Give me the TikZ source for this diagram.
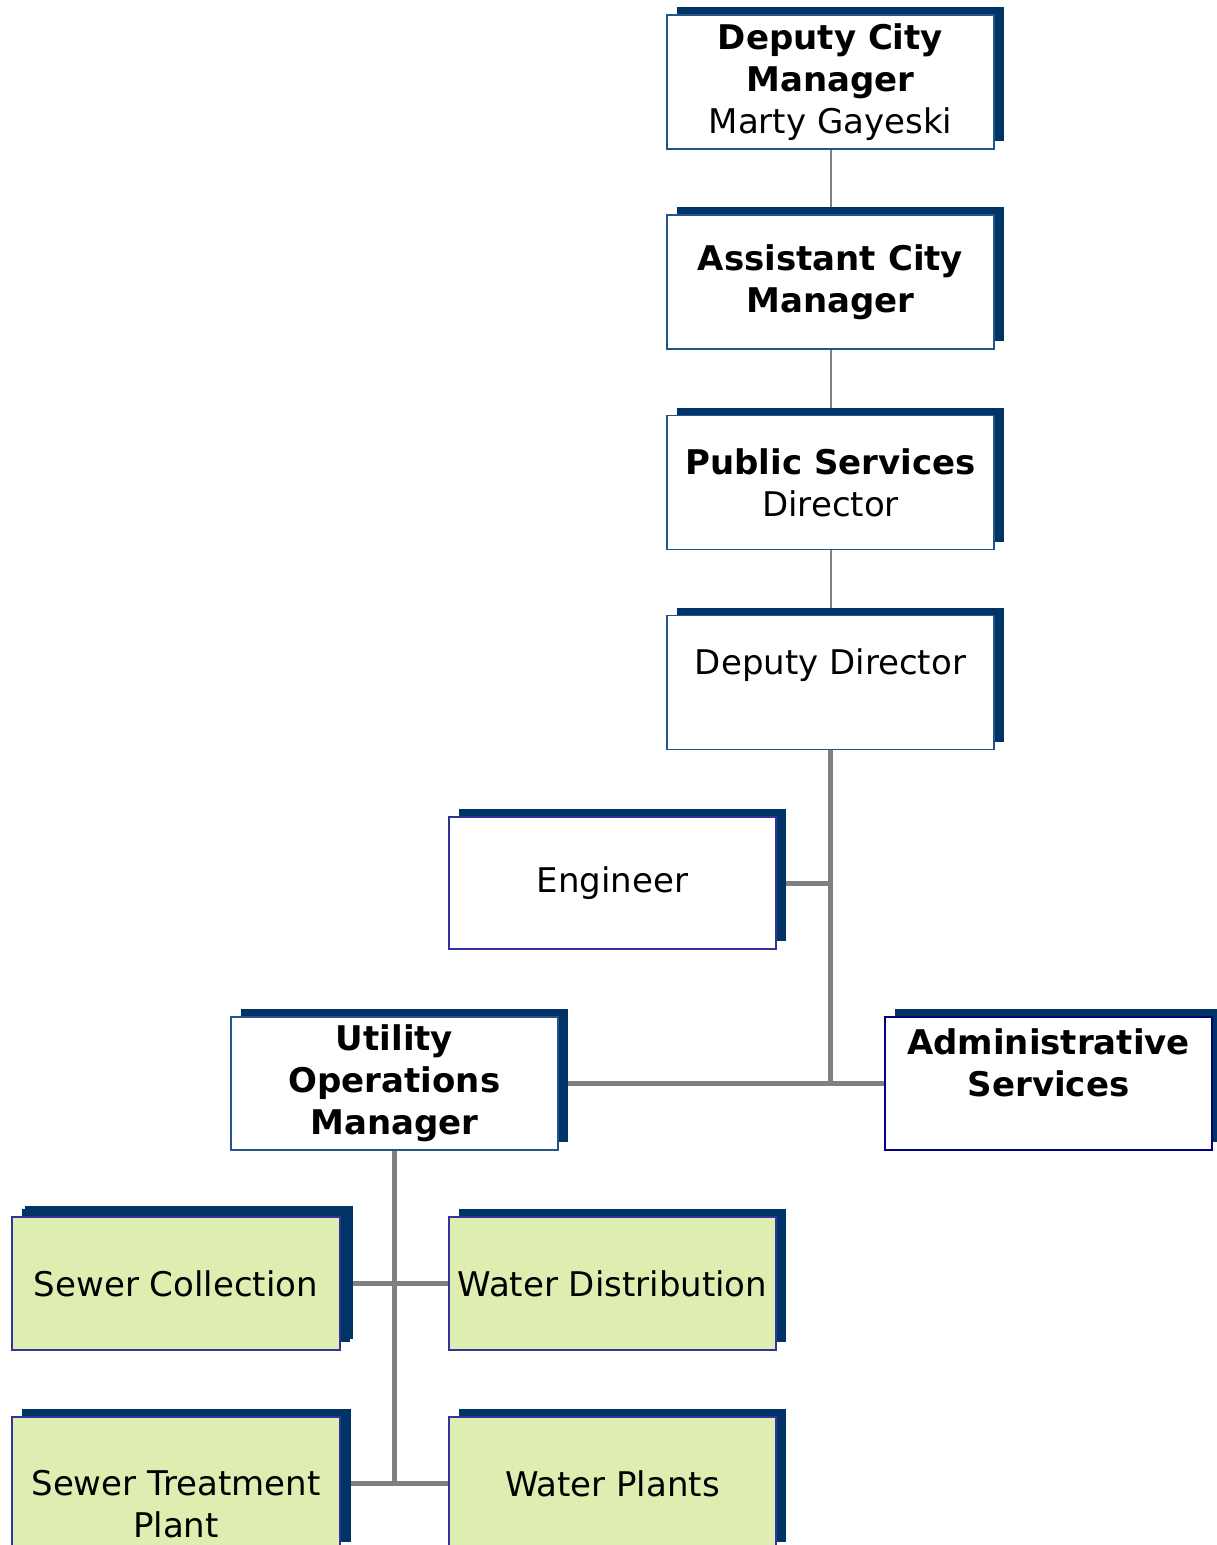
\documentclass[tikz,border=0pt]{standalone}
\usepackage{fontspec}
\setmainfont{DejaVu Sans}
\usetikzlibrary{shadows,backgrounds}
\definecolor{navyshadow}{HTML}{003366}
\definecolor{steelborder}{HTML}{24558A}
\definecolor{purpleborder}{HTML}{333399}
\definecolor{adminborder}{HTML}{000080}
\definecolor{linegray}{HTML}{808080}
\definecolor{palegreen}{RGB}{222,238,176}
\tikzset{
  orgbox/.style={draw=steelborder, line width=1.5pt, fill=white, minimum width=327pt, minimum height=134pt,
    inner sep=0pt, align=center, font=\fontsize{34}{42}\selectfont,
    general shadow={fill=navyshadow, shadow xshift=10pt, shadow yshift=8pt}},
  greenbox/.style={orgbox, draw=purpleborder, fill=palegreen, minimum height=133pt},
  thinlink/.style={draw=linegray, line width=2pt},
  thicklink/.style={draw=linegray, line width=5pt},
}
\begin{document}
\begin{tikzpicture}[x=1pt,y=-1pt]
\useasboundingbox (0,0) rectangle (1217,1545);
\clip (0,0) rectangle (1217,1545);
\node[orgbox] (b1) at (830.5,82) {\textbf{Deputy City}\\\textbf{Manager}\\Marty Gayeski};
\node[orgbox] (b2) at (830.5,282) {\textbf{Assistant City}\\\textbf{Manager}};
\node[orgbox] (b3) at (830.5,482.5) {\textbf{Public Services}\\Director};
\node[orgbox] (b4) at (830.5,682.5) {Deputy Director\\\phantom{X}};
\node[orgbox, draw=purpleborder, minimum height=132pt] (eng) at (612.5,883) {Engineer};
\node[orgbox, minimum height=133pt] (util) at (394.5,1083.5) {\textbf{Utility}\\\textbf{Operations}\\\textbf{Manager}};
\node[orgbox, draw=adminborder, minimum height=133pt] (adm) at (1048.5,1083.5) {\textbf{Administrative}\\\textbf{Services}\\\phantom{X}};
\node[greenbox, minimum width=328pt, general shadow={fill=navyshadow, shadow xshift=13pt, shadow yshift=11pt}] (sc) at (176,1283.5) {Sewer Collection};
\node[greenbox] (wd) at (612.5,1283.5) {Water Distribution};
\node[greenbox, minimum width=328pt, general shadow={fill=navyshadow, shadow xshift=11pt, shadow yshift=8pt}] (stp) at (176,1483.5) {\phantom{X}\\Sewer Treatment\\Plant};
\node[greenbox] (wp) at (612.5,1483.5) {Water Plants};
\coordinate (j) at (b4.south |- util.east);
\coordinate (je) at (b4.south |- eng.east);
\coordinate (ju) at (util.south |- wp.west);
\begin{scope}[on background layer]
\draw[thinlink] (b1.south) -- (b2.north);
\draw[thinlink] (b2.south) -- (b3.north);
\draw[thinlink] (b3.south) -- (b4.north);
\draw[thicklink] (b4.south) -- (j);
\draw[thicklink] (eng.east) -- (je);
\draw[thicklink] (util.east) -- (adm.west);
\draw[thicklink] (util.south) -- (ju);
\draw[thicklink] (sc.east) -- (wd.west);
\draw[thicklink] (stp.east) -- (wp.west);
\end{scope}
\end{tikzpicture}
\end{document}
